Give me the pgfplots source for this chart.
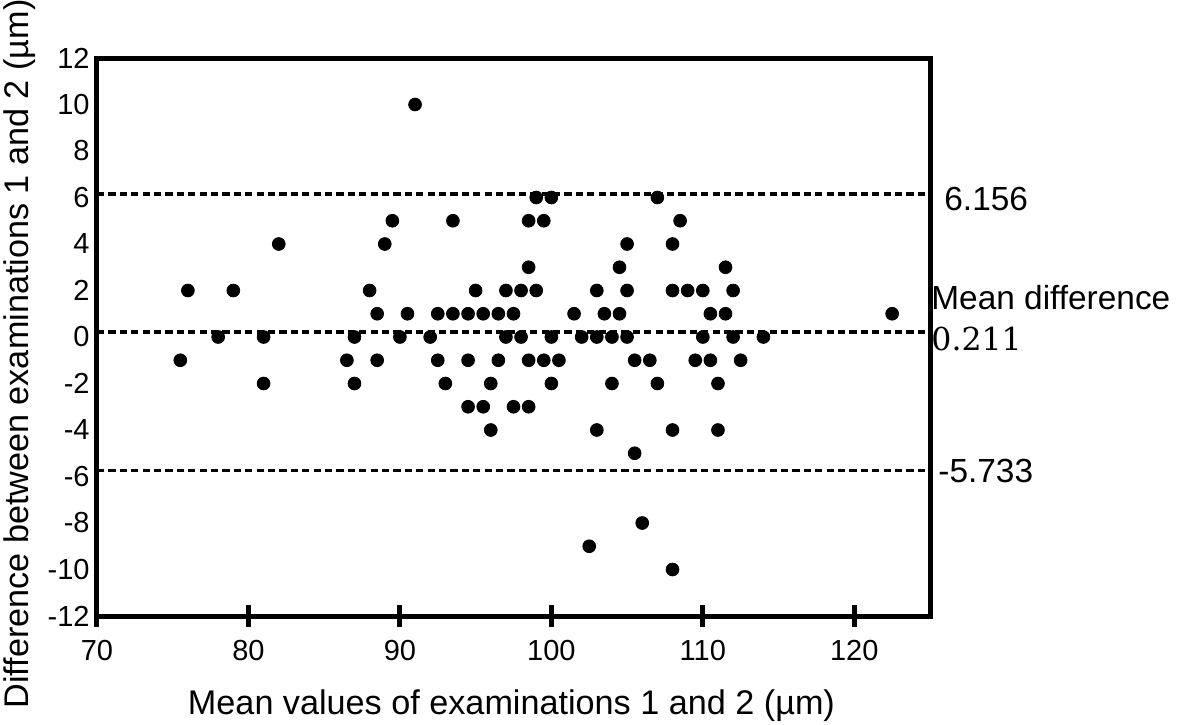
\documentclass[border=0pt]{standalone}
\usepackage{pgfplots}
\pgfplotsset{compat=1.18}
\usepackage{fontspec}
\setmainfont{Liberation Sans}
\newfontfamily\dvserif{DejaVu Serif}
\pgfplotstableread{
x y
91 10
99 6
100 6
107 6
89.5 5
93.5 5
98.5 5
99.5 5
108.5 5
82 4
89 4
105 4
108 4
98.5 3
104.5 3
111.5 3
76 2
79 2
88 2
95 2
97 2
98 2
99 2
103 2
105 2
108 2
109 2
110 2
112 2
88.5 1
90.5 1
92.5 1
93.5 1
94.5 1
95.5 1
96.5 1
97.5 1
101.5 1
103.5 1
104.5 1
110.5 1
111.5 1
122.5 1
78 0
81 0
87 0
90 0
92 0
97 0
98 0
100 0
102 0
103 0
104 0
105 0
110 0
112 0
114 0
75.5 -1
86.5 -1
88.5 -1
92.5 -1
94.5 -1
96.5 -1
98.5 -1
99.5 -1
100.5 -1
105.5 -1
106.5 -1
109.5 -1
110.5 -1
112.5 -1
81 -2
87 -2
93 -2
96 -2
100 -2
104 -2
107 -2
111 -2
94.5 -3
95.5 -3
97.5 -3
98.5 -3
96 -4
103 -4
108 -4
111 -4
105.5 -5
106 -8
102.5 -9
108 -10
}\pts
\begin{document}
\begin{tikzpicture}
\begin{axis}[
  at={(0pt,0pt)}, anchor=south west,
  scale only axis, width=416.5pt, height=279pt,
  xmin=70, xmax=125, ymin=-12, ymax=12,
  xtick={70,80,...,120}, ytick={-12,-10,...,12},
  axis line style={line width=2.5pt},
  tick pos=left,
  tick align=outside,
  major tick length=0pt,
  tick style={draw=none},
  /pgf/number format/assume math mode=true,
  xticklabel style={inner sep=0pt, yshift=-12pt, font=\fontsize{14.5}{17}\selectfont},
  yticklabel style={inner sep=0pt, xshift=-3.5pt, font=\fontsize{14.5}{17}\selectfont},
  clip=false,
  xlabel={Mean values of examinations 1 and 2 (µm)},
  ylabel={Difference between examinations 1 and 2 (µm)},
  xlabel style={at={(axis description cs:0.4976,-0.1774)}, anchor=base, inner sep=0pt, font=\fontsize{17.1}{20}\selectfont},
  ylabel style={at={(axis description cs:-0.0828,0.4695)}, anchor=base, inner sep=0pt, font=\fontsize{17.1}{20}\selectfont},
]
\addplot[black, line width=1.8pt, dash pattern=on 3.6pt off 2.1pt] coordinates {(70,6.156) (125,6.156)};
\addplot[black, line width=1.8pt, dash pattern=on 3.6pt off 2.1pt] coordinates {(70,0.211) (125,0.211)};
\addplot[black, line width=1.8pt, dash pattern=on 3.6pt off 2.1pt] coordinates {(70,-5.733) (125,-5.733)};
\addplot[only marks, mark=*, mark size=3.2pt, black] table[x=x, y=y] {\pts};
\node[anchor=base west, inner sep=0pt, xshift=7pt, font=\fontsize{16.7}{19}\selectfont] at (axis cs:125,5.44) {6.156};
\node[anchor=base west, inner sep=0pt, xshift=0.5pt, font=\fontsize{16.7}{19}\selectfont] at (axis cs:125,1.18) {Mean difference};
\node[anchor=base west, inner sep=0pt, xshift=0.5pt, font=\dvserif\fontsize{15.8}{19}\selectfont] at (axis cs:125,-0.58) {0.211};
\node[anchor=base west, inner sep=0pt, xshift=4pt, font=\fontsize{16.7}{19}\selectfont] at (axis cs:125,-6.26) {-5.733};
\end{axis}
\begin{axis}[
  at={(0pt,0pt)}, anchor=south west,
  scale only axis, width=416.5pt, height=279pt,
  xmin=70, xmax=125, ymin=-12, ymax=12,
  axis x line*=bottom, hide y axis,
  xtick={70,80,...,120}, xticklabels={},
  xtick align=center,
  major tick length=11pt,
  every tick/.style={line width=2.5pt, draw=black},
  axis line style={line width=2.5pt},
  clip=false,
]
\end{axis}
\pgfresetboundingbox
\path[use as bounding box] (-48.5pt,-54pt) rectangle (542pt,308pt);
\end{tikzpicture}
\end{document}
